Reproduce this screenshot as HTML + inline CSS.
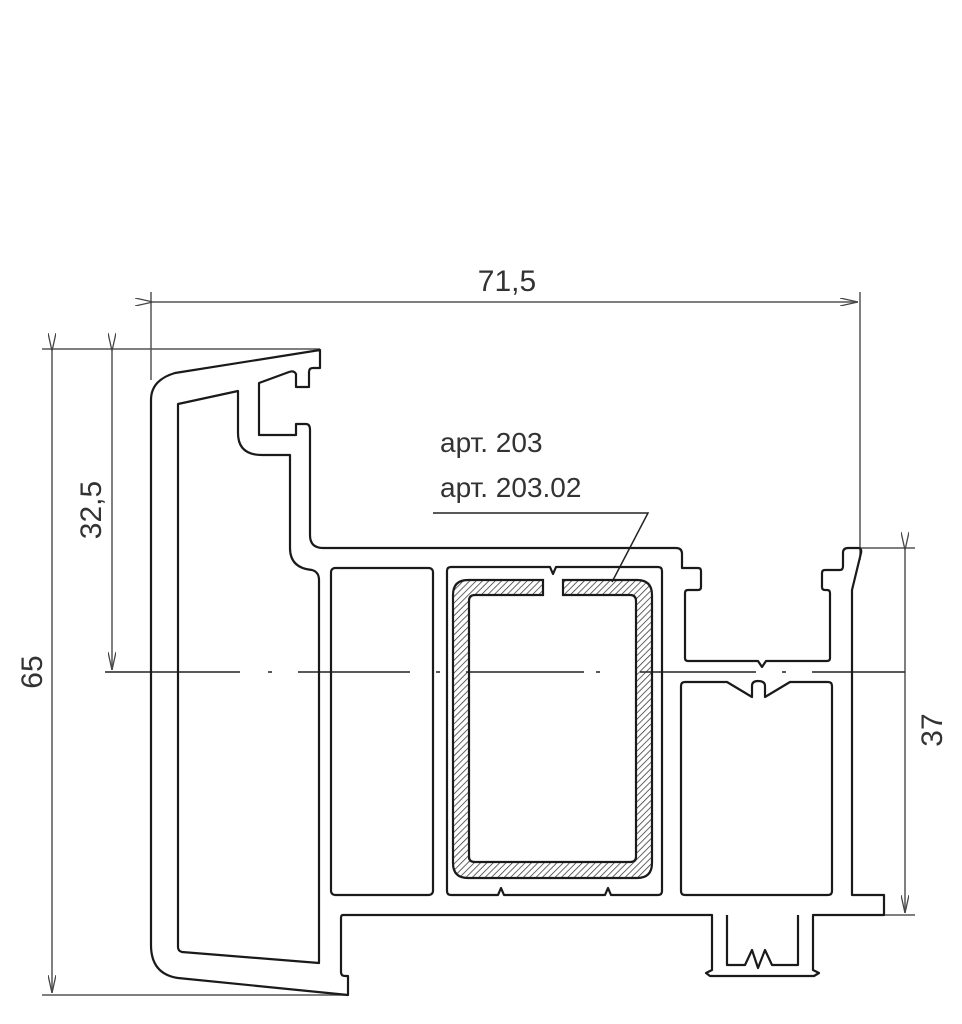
<!DOCTYPE html>
<html><head><meta charset="utf-8"><style>
html,body{margin:0;padding:0;background:#fff;width:962px;height:1024px;overflow:hidden}
svg{display:block}
text{font-family:"Liberation Sans",sans-serif;fill:#333}
</style></head><body>
<svg width="962" height="1024" viewBox="0 0 962 1024" xmlns="http://www.w3.org/2000/svg">
<defs>
<pattern id="h" width="4.5" height="4.5" patternUnits="userSpaceOnUse" patternTransform="rotate(45)">
<line x1="0" y1="0" x2="0" y2="4.5" stroke="#333" stroke-width="1.5"/>
</pattern>
<marker id="a" markerWidth="18" markerHeight="8" refX="18" refY="4" orient="auto" markerUnits="userSpaceOnUse">
<path d="M0,0 L18,4 L0,8" fill="none" stroke="#444" stroke-width="1.3"/>
</marker>
</defs>
<g fill="none" stroke="#555" stroke-width="1.5">
<line x1="151" y1="292" x2="151" y2="380"/>
<line x1="860" y1="292" x2="860" y2="560"/>
<line x1="153" y1="302" x2="858" y2="302" marker-start="url(#a)" marker-end="url(#a)"/>
<line x1="42" y1="349" x2="320" y2="349"/>
<line x1="42" y1="995" x2="348" y2="995"/>
<line x1="52" y1="351" x2="52" y2="993" marker-start="url(#a)" marker-end="url(#a)"/>
<line x1="112" y1="351" x2="112" y2="670" marker-start="url(#a)" marker-end="url(#a)"/>
<line x1="850" y1="548" x2="915" y2="548"/>
<line x1="884" y1="915" x2="915" y2="915"/>
<line x1="905" y1="550" x2="905" y2="913" marker-start="url(#a)" marker-end="url(#a)"/>
<path d="M105,672 H240 M268,672 H272 M298,672 H410 M436,672 H440 M466,672 H584 M596,672 H600 M640,672 H756 M782,672 H786 M812,672 H905" stroke="#222"/>
<path d="M433,513 H648 L612,582" stroke="#222"/>
</g>
<g fill="none" stroke="#1a1a1a" stroke-width="2.2" stroke-linejoin="round">
<path d="M320,350 V368 H313 Q309,368 309,372 V387 H296 V374 Q294,370 289,372 L259,383 V435 H296 V424 H306 Q310,424 310,430 V535 Q310,548 323,548 H676 Q682,548 682,554 V568 H698 Q701,568 701,571 V587 Q701,590 698,590 H688 Q685,590 685,593 V658 Q685,661 688,661 H758 L762,667 L766,661 H827 Q830,661 830,658 V593 Q830,590 827,590 H825 Q822,590 822,587 V573 Q822,570 825,570 H840 Q843,570 843,566 V553 Q843,548 848,548 H858 Q862,548 861,553 L852,590 V895 H884 V915 H813 V970 L819,973 L814,976 H710 L706,973 L712,970 V915 H343 Q341,915 341,918 V972 Q341,976 345,976 H348 V995 L178,978 Q151,974 151,945 V400 Q151,380 175,373 Z"/>
<path d="M178,404 L238,391 V433 Q238,455 262,455 H290 V548 Q290,568 312,570 Q319,572 319,580 V963 L182,952 Q178,951 178,947 Z"/>
<rect x="331" y="568" width="102" height="327" rx="4"/>
<path d="M451,567 H550 L553,574 L556,567 H658 Q662,567 662,571 V891 Q662,895 658,895 H611 L608,888 L605,895 H504 L501,888 L498,895 H451 Q447,895 447,891 V571 Q447,567 451,567 Z"/>
<path d="M685,682 H727 L752,697 V686 Q752,681 758,681 Q765,681 765,686 V697 L790,682 H828 Q832,682 832,686 V891 Q832,895 828,895 H685 Q681,895 681,891 V686 Q681,682 685,682 Z"/>
<path d="M727,915 V965 H745 L752,950 L758,968 L765,950 L772,965 H798 V915"/>
</g>
<path fill="url(#h)" stroke="#1a1a1a" stroke-width="2.2" fill-rule="evenodd"
d="M543,580 H468 Q453,580 453,595 V863 Q453,878 468,878 H637 Q652,878 652,863 V595 Q652,580 637,580 H563 V595 H630 Q636,595 636,601 V857 Q636,862 630,862 H475 Q469,862 469,857 V601 Q469,595 475,595 H543 Z"/>
<text x="507" y="291" font-size="30" text-anchor="middle">71,5</text>
<text x="440" y="452" font-size="28">арт. 203</text>
<text x="440" y="497" font-size="28">арт. 203.02</text>
<text font-size="30" text-anchor="middle" transform="translate(42,672) rotate(-90)">65</text>
<text font-size="30" text-anchor="middle" transform="translate(101,510) rotate(-90)">32,5</text>
<text font-size="30" text-anchor="middle" transform="translate(942,730) rotate(-90)">37</text>
</svg>
</body></html>
